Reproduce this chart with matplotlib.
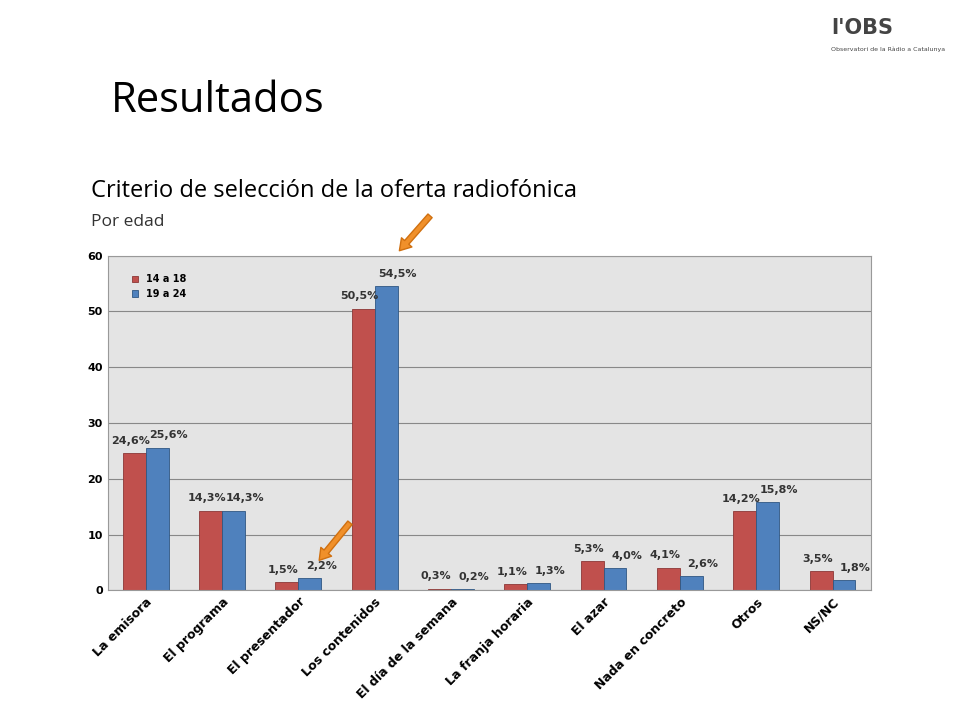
import matplotlib
matplotlib.use("Agg")
import matplotlib.pyplot as plt
import numpy as np

categories = ["La emisora", "El programa", "El presentador", "Los contenidos",
              "El día de la semana", "La franja horaria", "El azar",
              "Nada en concreto", "Otros", "NS/NC"]
s1_name = "14 a 18"
s2_name = "19 a 24"
s1 = [24.6, 14.3, 1.5, 50.5, 0.3, 1.1, 5.3, 4.1, 14.2, 3.5]
s2 = [25.6, 14.3, 2.2, 54.5, 0.2, 1.3, 4.0, 2.6, 15.8, 1.8]

fig = plt.figure(figsize=(9.6, 7.2), dpi=100)
fig.patch.set_facecolor("white")
fig.text(0.115, 0.86, "Resultados", fontsize=30, family="Open Sans", va="center")
fig.text(0.095, 0.735, "Criterio de selección de la oferta radiofónica", fontsize=17,
         family="Open Sans", va="center")
fig.text(0.095, 0.692, "Por edad", fontsize=12.5, family="Open Sans", va="center", color="#333333")
fig.text(0.93, 0.975, "l'OBS", fontsize=15, fontweight="bold", ha="right", va="top", color="#444444")
fig.text(0.985, 0.935, "Observatori de la Ràdio a Catalunya", fontsize=4.5, ha="right", va="top", color="#444444")

ax = fig.add_axes([0.112, 0.18, 0.795, 0.465])
ax.set_facecolor("#E4E4E4")
x = np.arange(len(categories))
w = 0.3
ax.bar(x - w/2, s1, w, color="#C0504D", edgecolor="#8C3836", linewidth=0.6, label=s1_name)
ax.bar(x + w/2, s2, w, color="#4F81BD", edgecolor="#2F5783", linewidth=0.6, label=s2_name)
for xi, v in zip(x, s1):
    ax.text(xi - w/2 - 0.05, v + 1.3, f"{v:.1f}%".replace(".", ","), ha="center", va="bottom",
            fontsize=8, fontweight="bold", color="#333333")
for xi, v in zip(x, s2):
    ax.text(xi + w/2 + 0.15, v + 1.3, f"{v:.1f}%".replace(".", ","), ha="center", va="bottom",
            fontsize=8, fontweight="bold", color="#333333")
ax.set_ylim(0, 60)
ax.set_xlim(-0.5, len(categories) - 0.5)
ax.set_yticks(range(0, 61, 10))
ax.tick_params(axis="y", labelsize=8, length=0)
for t in ax.get_yticklabels():
    t.set_fontweight("bold")
ax.set_xticks(x)
ax.set_xticklabels(categories, rotation=45, ha="right", rotation_mode="anchor",
                   fontsize=9, fontweight="bold")
ax.tick_params(axis="x", length=0)
ax.grid(axis="y", color="#888888", linewidth=0.8)
ax.set_axisbelow(True)
for s in ax.spines.values():
    s.set_color("#999999")
ax.legend(loc="upper left", bbox_to_anchor=(0.02, 0.97), frameon=False,
          handlelength=0.7, handleheight=0.7, prop={"weight": "bold", "size": 7})

arrow = dict(arrowstyle="simple,head_length=0.8,head_width=1.0,tail_width=0.4",
             color="#F0902A", ec="#D07010")
ax.annotate("", xy=(3.3, 60.5), xytext=(3.75, 67.5), arrowprops=arrow, annotation_clip=False)
ax.annotate("", xy=(2.25, 5.0), xytext=(2.7, 12.5), arrowprops=arrow)

fig.savefig("out.png", dpi=100)
